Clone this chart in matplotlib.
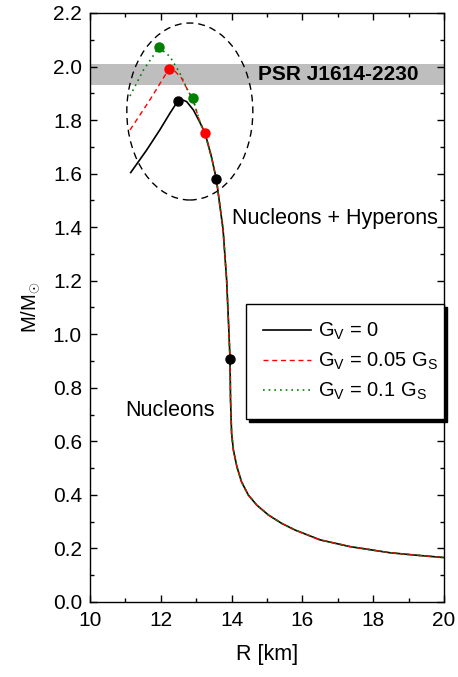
import matplotlib.pyplot as plt
from matplotlib.patches import Ellipse

plt.rcParams["font.family"] = ["Liberation Sans", "DejaVu Sans"]
plt.rcParams["mathtext.fontset"] = "custom"
plt.rcParams["mathtext.rm"] = "Liberation Sans"
plt.rcParams["mathtext.it"] = "Liberation Sans"

# ========= DATA =========

# common low-mass branch, identical for all three models
R_common = [13.43, 13.57, 13.76, 13.86, 13.91, 13.955, 13.97, 14.0, 14.05,
            14.15, 14.28, 14.47, 14.71, 15.04, 15.41, 15.79, 16.5, 17.34,
            18.47, 19.2, 20.0]
M_common = [1.663, 1.579, 1.39, 1.203, 1.053, 0.909, 0.755, 0.63, 0.568,
            0.505, 0.449, 0.400, 0.362, 0.325, 0.294, 0.269, 0.232, 0.207,
            0.184, 0.175, 0.166]

# hyperon branches (upper part of each curve)
R_gv0 = [11.15, 11.60, 11.98, 12.26, 12.48, 12.60, 12.73, 12.92, 13.11, 13.25]
M_gv0 = [1.604, 1.688, 1.765, 1.826, 1.871, 1.876, 1.869, 1.838, 1.790, 1.751]

R_gv005 = [11.13, 11.69, 12.23, 12.37, 12.59, 12.78, 12.90, 13.11, 13.25]
M_gv005 = [1.763, 1.875, 1.991, 1.987, 1.956, 1.906, 1.880, 1.790, 1.751]

R_gv01 = [11.13, 11.51, 11.95, 12.26, 12.54, 12.78, 12.90, 13.11, 13.25]
M_gv01 = [1.890, 1.987, 2.072, 2.037, 1.975, 1.906, 1.884, 1.790, 1.751]

# marked points on each curve
dots_gv0 = ([12.48, 13.57, 13.955], [1.871, 1.579, 0.909])
dots_gv005 = ([12.23, 13.25], [1.991, 1.751])
dots_gv01 = ([11.95, 12.90], [2.072, 1.884])

psr_band = (1.93, 2.01)

# ========= PLOT =========

fig = plt.figure(figsize=(4.58, 6.77), dpi=100)
ax = fig.add_axes([0.1965, 0.1108, 0.7729, 0.87])

ax.axhspan(psr_band[0], psr_band[1], color="#bebebe", lw=0, zorder=0)
ax.text(14.75, 1.969, "PSR J1614-2230", fontsize=15, fontweight="bold",
        va="center", ha="left")

ax.plot(R_gv0 + R_common, M_gv0 + M_common, color="black", lw=1.2,
        label="G$_V$ = 0", zorder=3)
ax.plot(R_gv005 + R_common, M_gv005 + M_common, color="red", lw=1.0,
        ls=(0, (3.6, 2.7)), label="G$_V$ = 0.05 G$_S$", zorder=4)
ax.plot(R_gv01 + R_common, M_gv01 + M_common, color="green", lw=1.2,
        ls=(0, (1, 2.4)), label="G$_V$ = 0.1 G$_S$", zorder=5)

ax.plot(*dots_gv0, "o", color="black", ms=6.5, zorder=6)
ax.plot(*dots_gv005, "o", color="red", ms=6.5, zorder=6)
ax.plot(*dots_gv01, "o", color="green", ms=6.5, zorder=6)

ax.add_patch(Ellipse((12.82, 1.832), 3.56, 0.661, fill=False, ec="black",
                     lw=1.0, ls=(0, (5, 3.5)), zorder=2))

ax.text(14.01, 1.434, "Nucleons + Hyperons", fontsize=15.5, va="center")
ax.text(11.0, 0.717, "Nucleons", fontsize=15.5, va="center")

ax.set_xlim(10, 20)
ax.set_ylim(0, 2.2)
ax.set_xticks(range(10, 21, 2))
ax.set_xticks(range(11, 20, 2), minor=True)
ax.set_yticks([i * 0.2 for i in range(12)])
ax.set_yticks([0.1 + i * 0.2 for i in range(11)], minor=True)
ax.yaxis.set_major_formatter(plt.FormatStrFormatter("%.1f"))
ax.tick_params(which="both", direction="in", top=True, right=True,
               labelsize=15, width=1)
ax.tick_params(which="major", length=5)
ax.tick_params(which="minor", length=3)
ax.tick_params(axis="x", pad=6.5)
ax.tick_params(axis="y", pad=5.8)
for sp in ax.spines.values():
    sp.set_linewidth(1.0)

ax.set_xlabel("R [km]", fontsize=15.5, labelpad=10)
ax.set_ylabel("M/M$_{\\odot}$", fontsize=14.5, labelpad=8)

leg = ax.legend(loc="upper left", bbox_to_anchor=(0.44, 0.406, 0.56, 0.1),
                mode="expand", fontsize=14.5, frameon=True, fancybox=False,
                edgecolor="black", shadow={"color": "black", "alpha": 1},
                handlelength=2.4, handletextpad=0.35, borderpad=0.85,
                labelspacing=0.42, borderaxespad=0)
leg.get_frame().set_linewidth(1.0)

fig.savefig("out.png", dpi=100)
